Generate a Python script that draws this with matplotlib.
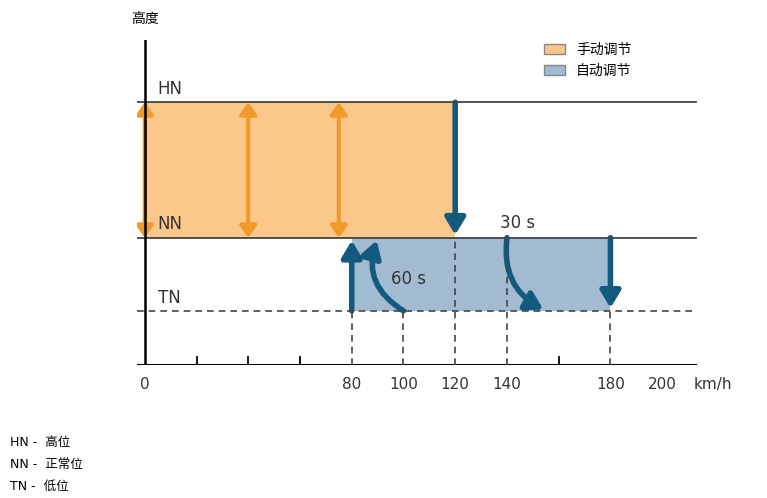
import matplotlib.pyplot as plt
from matplotlib.patches import FancyArrowPatch, Patch

plt.rcParams['font.family'] = ['DejaVu Sans', 'Noto Sans CJK SC']

speeds = [0, 80, 100, 120, 140, 180, 200]
minor_ticks = [20, 40, 60, 160]
levels = {'TN': 1.0, 'NN': 2.35, 'HN': 4.85}
manual_range = (0, 120)
auto_range = (80, 180)
manual_arrows = [0, 40, 75]
dashed_from_tn = [80, 100, 180]
dashed_from_nn = [120, 140]
orange = '#fcc78b'
orange_dark = '#f19a2a'
blue = '#a2bbd3'
blue_dark = '#125a7e'
grey = '#444444'

fig = plt.figure(figsize=(7.67, 4.98), dpi=100)
ax = fig.add_axes([137/767, 133/498, 564/767, 325/498])
ax.set_xlim(-3, 215)
ax.set_ylim(0, 6)
ax.axis('off')

TN, NN, HN = levels['TN'], levels['NN'], levels['HN']
ax.fill_between(manual_range, NN, HN, color=orange, lw=0)
ax.fill_between(auto_range, TN, NN, color=blue, lw=0)
ax.plot([-3, 213], [HN, HN], color=grey, lw=1.3)
ax.plot([-3, 213], [NN, NN], color=grey, lw=1.3)
ax.plot([-3, 213], [TN, TN], color=grey, lw=1.2, ls=(0, (4, 3)))
ax.plot([-3, 213], [0, 0], color='black', lw=1.5)
ax.plot([0, 0], [-0.15, 6], color='black', lw=1.8)
for x in minor_ticks:
    ax.plot([x, x], [-0.15, 0.15], color='black', lw=1.3)
for x in [80, 100, 120, 140, 180]:
    ax.plot([x, x], [-0.15, 0], color='black', lw=1.3)
for x in dashed_from_tn:
    ax.plot([x, x], [0, TN], color=grey, lw=1.2, ls=(0, (4, 3)))
for x in dashed_from_nn:
    ax.plot([x, x], [0, NN], color=grey, lw=1.2, ls=(0, (4, 3)))
for x in speeds:
    ax.text(x, -0.22, str(x), ha='center', va='top', fontsize=11, color='#333333')
ax.text(212, -0.22, 'km/h', ha='left', va='top', fontsize=11, color='#333333')
ax.text(0, 6.25, '高度', ha='center', va='bottom', fontsize=10)
for name, y in levels.items():
    ax.text(5, y + 0.08, name, ha='left', va='bottom', fontsize=12, color='#333333')

for x in manual_arrows:
    ax.add_patch(FancyArrowPatch((x, NN), (x, HN), arrowstyle='<|-|>,head_length=7,head_width=5',
                                 color=orange_dark, lw=3, mutation_scale=1, shrinkA=0, shrinkB=0))

def arrow(p0, p1, rad=0.0):
    ax.add_patch(FancyArrowPatch(p0, p1, arrowstyle='-|>,head_length=10,head_width=6',
                                 connectionstyle=f'arc3,rad={rad}', color=blue_dark, lw=4,
                                 mutation_scale=1, shrinkA=0, shrinkB=2))

arrow((120, HN), (120, NN))
arrow((80, TN), (80, NN))
arrow((100, TN), (90, NN), rad=-0.4)
arrow((140, NN), (155, TN), rad=0.35)
arrow((180, NN), (180, TN))
ax.text(95, 1.5, '60 s', fontsize=12, color='#333333')
ax.text(144, NN + 0.1, '30 s', ha='center', va='bottom', fontsize=12, color='#333333')

ax.legend(handles=[Patch(facecolor=orange, edgecolor='#888888', label='手动调节'),
                   Patch(facecolor=blue, edgecolor='#888888', label='自动调节')],
          loc='upper left', bbox_to_anchor=(0.7, 1.03), frameon=False, fontsize=10,
          handlelength=1.5, handleheight=0.8)

notes = ['HN -  高位', 'NN -  正常位', 'TN -  低位']
for i, t in enumerate(notes):
    fig.text(10/767, 1 - (442 + i*22)/498, t, fontsize=9, va='center')

fig.savefig('out.png', dpi=100)
